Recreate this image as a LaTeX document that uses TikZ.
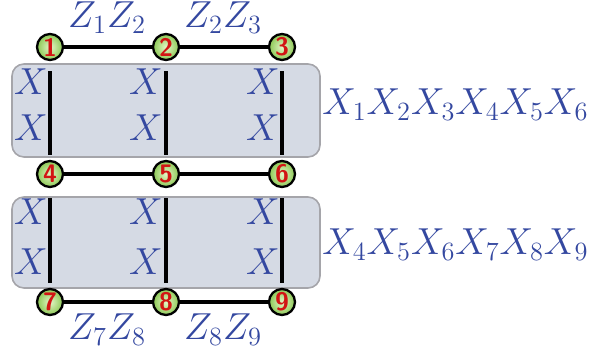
\RequirePackage{fix-cm}
\documentclass[tikz,border=0pt]{standalone}
\usepackage{tikz}
\usetikzlibrary{calc}

\definecolor{opblue}{RGB}{52,72,160}
\definecolor{panelfill}{RGB}{213,218,228}
\definecolor{panelline}{RGB}{165,165,170}
\definecolor{qred}{RGB}{210,20,20}
\definecolor{qgreenin}{RGB}{228,246,200}
\definecolor{qgreenout}{RGB}{140,200,85}

\begin{document}
\begin{tikzpicture}[
    qubit/.style={circle, draw=black, line width=1.3pt, minimum size=0.52cm, inner sep=0pt,
                  shading=radial, inner color=qgreenin, outer color=qgreenout,
                  text=qred, font=\Large\sffamily\bfseries},
    panel/.style={draw=panelline, line width=0.9pt, fill=panelfill, rounded corners=0.24cm,
                  minimum width=6.16cm, inner sep=0pt},
    bond/.style={line width=1.8pt},
    oplbl/.style={text=opblue, font=\fontsize{21.4}{26}\selectfont, inner sep=0pt},
]
  \useasboundingbox (0,0) rectangle (11.8,7.1);

  % plaquette panels
  \node[panel, minimum height=1.86cm] (panA) at (3.32, 4.89) {};
  \node[panel, minimum height=1.82cm] (panB) at (3.32, 2.25) {};

  % qubits
  \foreach \n/\x/\y in {1/1.00/6.16, 2/3.32/6.16, 3/5.64/6.16,
                        4/1.00/3.62, 5/3.32/3.62, 6/5.64/3.62,
                        7/1.00/1.06, 8/3.32/1.06, 9/5.64/1.06}
    \node[qubit] (q\n) at (\x, \y) {\n};

  \foreach \i/\j in {1/2, 2/3, 4/5, 5/6, 7/8, 8/9}
    \draw[bond] (q\i) -- (q\j);

  % X strings inside the panels
  \foreach \i/\j in {1/4, 2/5, 3/6, 4/7, 5/8, 6/9}
    \draw[bond] ($(q\i.south)+(0,-0.2)$) -- ($(q\j.north)+(0,0.1)$);

  \foreach \x in {0.62, 2.92, 5.26}
    \foreach \y in {5.46, 4.54, 2.86, 1.86}
      \node[oplbl] at (\x, \y) {$X$};

  % stabilizer labels
  \node[oplbl, anchor=base] (z12) at (2.14, 6.54) {$Z_1Z_2$};
  \node[oplbl, anchor=base] (z23) at (4.46, 6.54) {$Z_2Z_3$};
  \node[oplbl, anchor=base] (z78) at (2.14, 0.30) {$Z_7Z_8$};
  \node[oplbl, anchor=base] (z89) at (4.46, 0.30) {$Z_8Z_9$};

  \node[oplbl, anchor=base west] (xa) at (6.44, 4.80) {$X_1X_2X_3X_4X_5X_6$};
  \node[oplbl, anchor=base west] (xb) at (6.44, 2.00) {$X_4X_5X_6X_7X_8X_9$};
\end{tikzpicture}
\end{document}
